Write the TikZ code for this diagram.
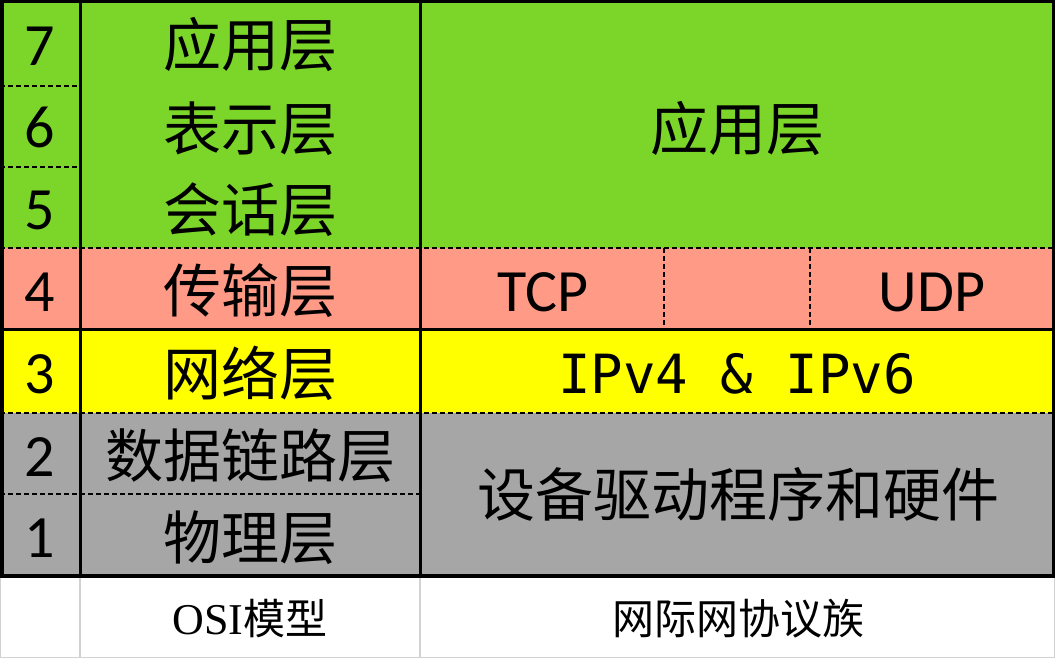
\documentclass[tikz,border=0pt]{standalone}
\usepackage{fontspec}
\newfontfamily\cjk{Noto Sans CJK SC}
\newfontfamily\numfont{Carlito}
\newfontfamily\ipfont{DejaVu Sans Mono}
\newfontfamily\latinserif{Liberation Serif}
\definecolor{appgreen}{RGB}{124,214,42}
\definecolor{transsalmon}{RGB}{255,154,134}
\definecolor{netyellow}{RGB}{255,255,0}
\definecolor{linkgrey}{RGB}{166,166,166}
\definecolor{gridgrey}{RGB}{210,210,210}
\tikzset{
  numlbl/.style={anchor=base,inner sep=0pt,font=\numfont\fontsize{60}{62}\selectfont},
  cjklbl/.style={anchor=base,inner sep=0pt,font=\cjk\fontsize{58}{60}\selectfont},
  protolbl/.style={anchor=base,inner sep=0pt,font=\numfont\fontsize{60}{62}\selectfont},
  iplbl/.style={anchor=base,inner sep=0pt,font=\ipfont\fontsize{54}{56}\selectfont},
  caption/.style={anchor=base,inner sep=0pt,font=\cjk\fontsize{42}{44}\selectfont},
  rowsep/.style={line width=2pt,dash pattern=on 5pt off 3pt},
  solidsep/.style={line width=3pt},
  frame/.style={line width=3.5pt},
  grid/.style={draw=gridgrey,line width=1.2pt}
}
\begin{document}
\begin{tikzpicture}[x=1pt,y=-1pt]
\useasboundingbox (0,0) rectangle (1055,658);
% layer backgrounds
\fill[appgreen] (0,0) rectangle (1055,248);
\fill[transsalmon] (0,248) rectangle (1055,329);
\fill[netyellow] (0,329) rectangle (1055,413);
\fill[linkgrey] (0,413) rectangle (1055,576);
\fill[white] (0,576) rectangle (1055,658);
% caption row grid
\draw[grid] (0.6,576) rectangle (1054.4,657.4);
\draw[grid] (80,576) -- (80,658);
\draw[grid] (420,576) -- (420,658);
% dashed layer separators
\draw[rowsep] (0,86) -- (80,86);
\draw[rowsep] (0,167) -- (80,167);
\draw[rowsep] (0,248) -- (1055,248);
\draw[rowsep] (0,413) -- (1055,413);
\draw[rowsep] (0,494) -- (420,494);
\draw[rowsep] (664,248) -- (664,329);
\draw[rowsep] (810,248) -- (810,329);
% solid separators
\draw[solidsep] (0,329) -- (1055,329);
\draw[solidsep] (80,0) -- (80,576);
\draw[solidsep] (420,0) -- (420,576);
\draw[frame] (1.75,1.75) rectangle (1053.25,576);
% layer numbers
\node[numlbl] (n7) at (40,66) {7};
\node[numlbl] (n6) at (40,148) {6};
\node[numlbl] (n5) at (40,229) {5};
\node[numlbl] (n4) at (40,311) {4};
\node[numlbl] (n3) at (40,393) {3};
\node[numlbl] (n2) at (40,476) {2};
\node[numlbl] (n1) at (40,557) {1};
% OSI layers
\node[cjklbl] (osi7) at (250,67) {应用层};
\node[cjklbl] (osi6) at (250,150) {表示层};
\node[cjklbl] (osi5) at (250,231) {会话层};
\node[cjklbl] (osi4) at (250,312) {传输层};
\node[cjklbl] (osi3) at (250,395) {网络层};
\node[cjklbl] (osi2) at (250,477) {数据链路层};
\node[cjklbl] (osi1) at (250,559) {物理层};
% internet protocol suite
\node[cjklbl] (ipapp) at (737,150) {应用层};
\node[protolbl] (tcp) at (543,311) {TCP};
\node[protolbl] (udp) at (932,311) {UDP};
\node[iplbl] (ip) at (737,393) {IPv4 \& IPv6};
\node[cjklbl] (hw) at (738,516) {设备驱动程序和硬件};
% captions
\node[caption] (osicap) at (250,634) {{\latinserif\fontsize{44}{46}\selectfont OSI}模型};
\node[caption] (ipcap) at (738,634) {网际网协议族};
\end{tikzpicture}
\end{document}
